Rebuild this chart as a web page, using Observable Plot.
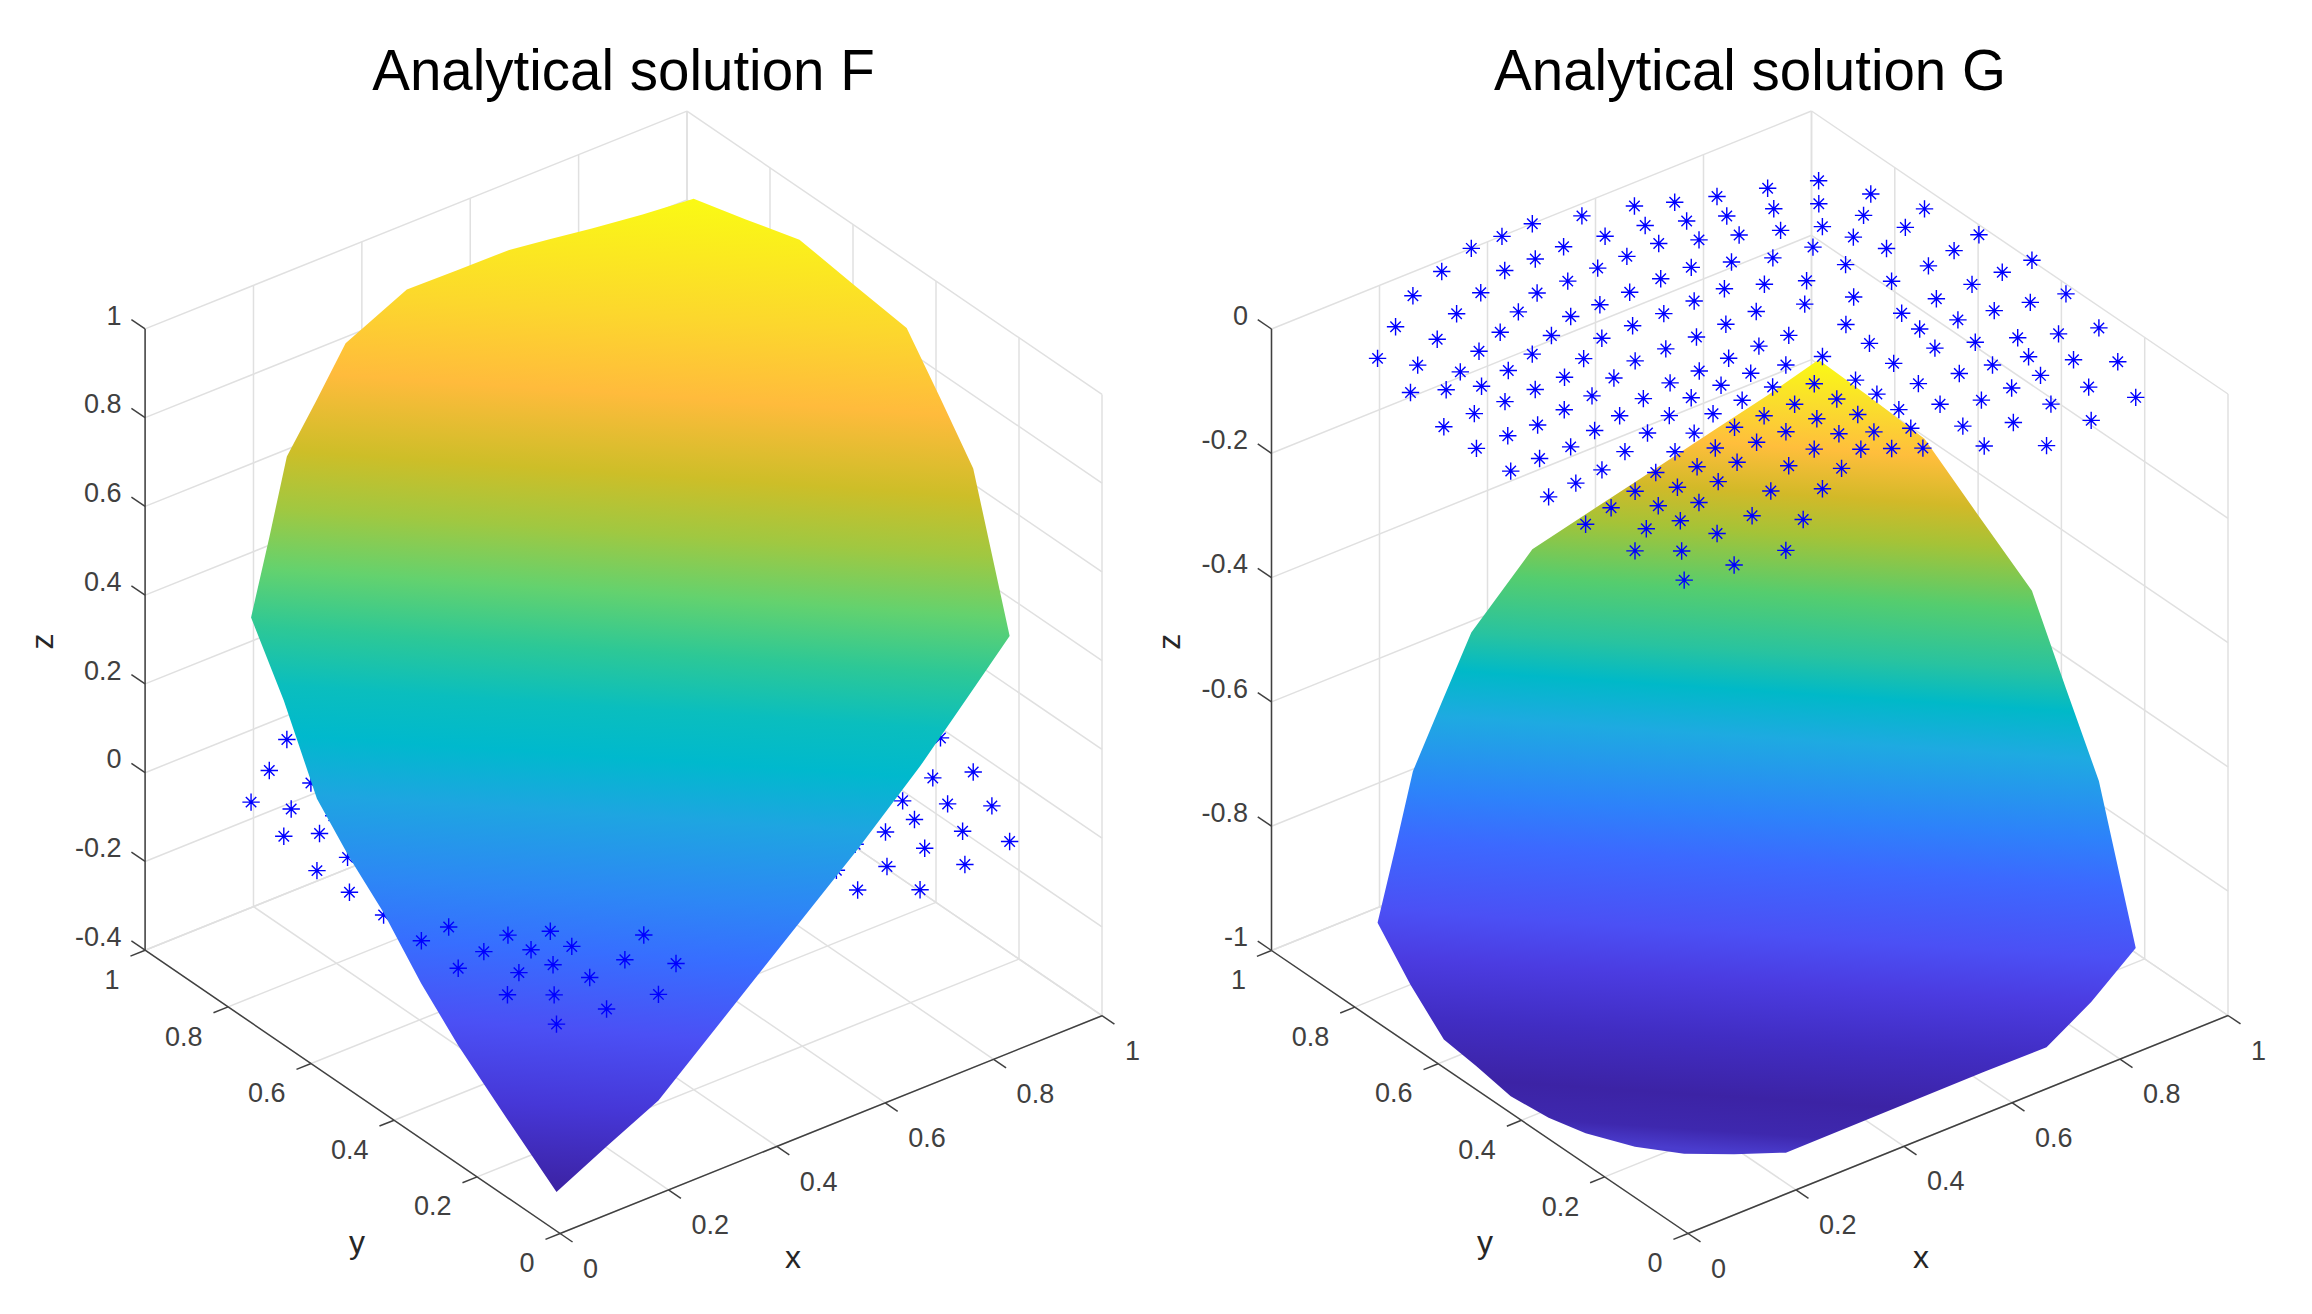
<!doctype html>
<html><head><meta charset="utf-8">
<script src="https://cdn.jsdelivr.net/npm/d3@7"></script>
<script src="https://cdn.jsdelivr.net/npm/@observablehq/plot@0.6"></script>
<style>html,body{margin:0;padding:0;background:#fff}svg{display:block}</style>
</head><body>
<div id="chart"></div>
<script>
// ---- data: collocation nodes (x, y), all lying on the plane z = 0
const nodeX = [.889,.817,.927,.744,.685,.632,.554,.964,.789,.850,.722,.667,.882,.483,
.611,.815,.910,.760,.426,.704,.649,.596,.546,.833,.983,.370,.480,.852,
.769,.927,.426,.537,.704,.649,1.001,.777,.871,.593,.296,.371,.483,.946,
.538,.704,.802,.649,.426,.890,.595,.221,.305,.479,.370,.983,.731,.824,
.927,.662,.539,.423,.241,.316,.593,.482,.871,.759,.369,.813,.675,.536,
.425,.148,.260,.963,.753,.906,.852,.314,.480,.590,.175,.368,.795,.670,
.203,.537,.738,.424,.260,.832,.312,.481,.073,.368,.879,.927,.593,.664,
.108,.536,.776,.204,.146,.425,.481,.723,.814,.258,.591,.314,.371,.537,
.658,.146,.850,.099,.053,.203,.426,.759,.483,.592,.258,.370,.313,.887,
.425,.147,.537,.703,.648,.777,.479,.202,.091,.591,.314,.368,.256,.535,
.424,.796,.480,.702,.145,.033,.370,.637,.573,.202,.259,.313,.422,.480,
.524,.092,.370,.146,.034,.312,.425,.479,.516,.553,.628,.701,.259,.201,
.090,.313,.259,.367,.424,.143,.035,.201,.258,.367,.050,.134,.043,.097,
.219,.168,.094,.147,.031,.292,.239,.147,.200,.089,.035,.145,.201,.303,.090];
const nodeY = [.839,.868,.763,.895,.920,.948,.973,.682,.817,.788,.843,.868,.722,1.000,
.895,.734,.658,.763,.999,.790,.815,.843,.907,.683,.576,1.000,.921,.628,
.697,.563,.919,.843,.709,.737,.472,.629,.552,.761,.975,.921,.843,.472,
.763,.628,.551,.658,.841,.472,.684,.947,.893,.761,.842,.367,.550,.472,
.380,.578,.684,.760,.868,.817,.605,.683,.394,.471,.760,.406,.496,.604,
.684,.894,.788,.262,.420,.285,.313,.735,.602,.523,.829,.684,.341,.433,
.765,.526,.364,.603,.711,.261,.655,.526,.840,.604,.214,.170,.446,.367,
.789,.460,.275,.696,.736,.524,.473,.286,.209,.631,.364,.585,.524,.393,
.300,.685,.140,.709,.735,.630,.473,.207,.423,.314,.565,.472,.513,.075,
.421,.630,.339,.207,.235,.136,.365,.559,.631,.260,.452,.417,.496,.286,
.367,.064,.313,.129,.549,.629,.368,.166,.208,.486,.433,.391,.312,.260,
.233,.552,.315,.471,.552,.339,.248,.206,.180,.153,.103,.048,.367,.412,
.473,.288,.314,.234,.181,.392,.471,.338,.262,.153,.074,.063,.183,.141,
.049,.148,.222,.209,.286,.102,.156,.262,.233,.300,.380,.315,.286,.194,.386];
// number of trailing nodes where F < 0, so they sit in front of surface F
const nodesInFrontOfF = 19;
// boundary of the domain, as indices into the node arrays, and the solution on it
const boundary = [0,2,7,24,34,53,73,125,141,165,164,182,179,178,180,186,192,174,158,145,116,92,71,49,38,25,18,13,6,5,4,3,1];
const boundaryF = [.960,.943,.931,.888,.848,.765,.684,.463,.368,.278,.092,-.239,-.310,-.378,-.281,-.174,-.097,
.005,.078,.162,.306,.416,.525,.638,.707,.786,.820,.852,.877,.901,.917,.928,.941];
const boundaryG = [-.288,-.328,-.370,-.453,-.532,-.635,-.729,-.886,-.936,-.968,-1.007,-.969,-.948,-.923,-.959,-.980,-.999,
-1.006,-.994,-.986,-.953,-.908,-.837,-.765,-.693,-.618,-.570,-.524,-.484,-.445,-.408,-.373,-.333];
// ticks
const xyTicks = [0,.2,.4,.6,.8,1];
const xyTickLabels = ["0","0.2","0.4","0.6","0.8","1"];
const zTicksF = [-.4,-.2,0,.2,.4,.6,.8,1];
const zTickLabelsF = ["-0.4","-0.2","0","0.2","0.4","0.6","0.8","1"];
const zTicksG = [-1,-.8,-.6,-.4,-.2,0];
const zTickLabelsG = ["-1","-0.8","-0.6","-0.4","-0.2","0"];
// colour ramps of the two surfaces, top (0) to bottom (1) of the drawn surface
const rampLevelsF = [0,.120,.200,.280,.339,.399,.458,.515,.565,.623,.703,.762,.841,.919,1];
const rampColorsF = ["#fafa14","#fcd72d","#ffbb3c","#cdbe28","#a0c841","#64d26e","#2dc896","#0abebe","#00b9cd","#1ea5e1","#2d87f5","#376eff","#4b50f5","#4637d7","#3c23a5"];
const rampLevelsG = [0,.058,.112,.171,.221,.296,.371,.420,.478,.576,.635,.725,.784,.857,.931,.975,1];
const rampColorsG = ["#fafa14","#fadc2d","#ffbe3c","#d2b928","#a5c337","#55cd6e","#28c3a0","#00b9c8","#1eaae1","#2d82fa","#3c69ff","#4b50f5","#4b3ce1","#412dc3","#3c23a5","#3e28ae","#4a3ccd"];

// ---- layout of the two 3-D boxes (orthographic projection)
const W = 2312, H = 1314;
const FONT = "'Liberation Sans', Arial, sans-serif";
const panels = [
  {name:"F", title:"Analytical solution F", titleX:623, ox:559.6, oy:1233, xv:[541.9,-217.8], yv:[-415,-283.3], zh:621.3,
   zTicks:zTicksF, zLabels:zTickLabelsF, z:boundaryF, levels:rampLevelsF, colors:rampColorsF, tilt:.066},
  {name:"G", title:"Analytical solution G", titleX:1749.5, ox:1687.5, oy:1233, xv:[540,-218], yv:[-416.5,-283], zh:621.5,
   zTicks:zTicksG, zLabels:zTickLabelsG, z:boundaryG, levels:rampLevelsG, colors:rampColorsG, tilt:.066}
];
const marks = [];
const star = {draw(c,size){const r=Math.sqrt(size/Math.PI),d=r*.6;
  c.moveTo(-r,0);c.lineTo(r,0);c.moveTo(0,-r);c.lineTo(0,r);
  c.moveTo(-d,-d);c.lineTo(d,d);c.moveTo(-d,d);c.lineTo(d,-d);}};
const NS="http://www.w3.org/2000/svg";

for (const P of panels) {
  const zMin=P.zTicks[0], zMax=P.zTicks[P.zTicks.length-1];
  const px=(x,y)=>P.ox+P.xv[0]*x+P.yv[0]*y;
  const py=(x,y,z)=>P.oy+P.xv[1]*x+P.yv[1]*y-(z-zMin)/(zMax-zMin)*P.zh;
  const seg=(a,b)=>({x1:px(a[0],a[1]),y1:py(a[0],a[1],a[2]),x2:px(b[0],b[1]),y2:py(b[0],b[1],b[2])});
  const link=(segs,o)=>Plot.link(segs,{x1:"x1",y1:"y1",x2:"x2",y2:"y2",...o});
  // grid
  const grid=[];
  for(const t of xyTicks){
    grid.push(seg([t,0,zMin],[t,1,zMin]),seg([0,t,zMin],[1,t,zMin]),
              seg([t,1,zMin],[t,1,zMax]),seg([1,t,zMin],[1,t,zMax]));
  }
  for(const z of P.zTicks){grid.push(seg([0,1,z],[1,1,z]),seg([1,1,z],[1,0,z]));}
  marks.push(link(grid,{stroke:"#e0e0e0",strokeWidth:1.5}));
  // axis lines and ticks
  const axes=[seg([0,0,zMin],[1,0,zMin]),seg([0,0,zMin],[0,1,zMin]),seg([0,1,zMin],[0,1,zMax])];
  for(const t of xyTicks){axes.push(seg([t,0,zMin],[t,-.03,zMin]),seg([0,t,zMin],[-.027,t,zMin]));}
  for(const z of P.zTicks){axes.push(seg([0,1,z],[0,1.033,z]));}
  marks.push(link(axes,{stroke:"#404040",strokeWidth:1.5}));
  // tick labels
  const txt=(data,o)=>Plot.text(data,{x:"x",y:"y",text:"s",fontFamily:FONT,...o});
  const common={fontSize:27,fill:"#404040"};
  marks.push(txt(xyTicks.map((t,i)=>({x:px(t,0),y:py(t,0,zMin),s:xyTickLabels[i]})),
    {textAnchor:"start",dx:23,dy:35.5,...common}));
  marks.push(txt(xyTicks.map((t,i)=>({x:px(0,t),y:py(0,t,zMin),s:xyTickLabels[i]})),
    {textAnchor:"end",dx:-25.5,dy:30,...common}));
  marks.push(txt(P.zTicks.map((z,i)=>({x:px(0,1),y:py(0,1,z),s:P.zLabels[i]})),
    {textAnchor:"end",dx:-23.5,dy:-13,...common}));
  // axis titles
  const ac={fontSize:32,fill:"#262626"};
  marks.push(txt([{x:P.ox,y:P.oy,s:"x"}],{dx:233,dy:24,...ac}));
  marks.push(txt([{x:P.ox,y:P.oy,s:"y"}],{dx:-203,dy:9.5,...ac}));
  marks.push(txt([{x:px(0,1),y:py(0,1,(zMin+zMax)/2),s:"z"}],{dx:-102,dy:2,rotate:-90,...ac}));
  // title
  marks.push(txt([{x:P.titleX,y:71,s:P.title}],{fontSize:56.5,fill:"#000"}));

  // nodes and surface
  const nodes=nodeX.map((x,i)=>({px:px(x,nodeY[i]),py:py(x,nodeY[i],0)}));
  const dots=d=>Plot.dot(d,{x:"px",y:"py",symbol:star,r:8.7,fill:"none",stroke:"#0000ff",strokeWidth:1.4});
  const hull=boundary.map((n,i)=>({px:px(nodeX[n],nodeY[n]),py:py(nodeX[n],nodeY[n],P.z[i])}));
  const [top,bottom]=d3.extent(hull,d=>d.py);
  const apex=hull[0].px;
  const id="ramp"+P.name;
  // gradient definition for the surface, tilted like the level lines in the picture
  marks.push(()=>{
    const defs=document.createElementNS(NS,"defs");
    const g=document.createElementNS(NS,"linearGradient");
    g.setAttribute("id",id);g.setAttribute("gradientUnits","userSpaceOnUse");
    const h=bottom-top;
    g.setAttribute("x1",apex);g.setAttribute("y1",top);
    g.setAttribute("x2",apex-P.tilt*h);g.setAttribute("y2",top+h);
    P.levels.forEach((l,i)=>{const s=document.createElementNS(NS,"stop");
      s.setAttribute("offset",l);s.setAttribute("stop-color",P.colors[i]);g.appendChild(s);});
    defs.appendChild(g);return defs;
  });
  if(P.name==="F"){
    marks.push(dots(nodes));
    marks.push(Plot.line(hull,{x:"px",y:"py",curve:"linear-closed",fill:`url(#${id})`,stroke:"none"}));
    marks.push(dots(nodes.slice(-nodesInFrontOfF)));
  } else {
    marks.push(Plot.line(hull,{x:"px",y:"py",curve:"linear-closed",fill:`url(#${id})`,stroke:"none"}));
    marks.push(dots(nodes));
  }
}

const chart=Plot.plot({width:W,height:H,margin:0,
  x:{domain:[0,W],range:[0,W],axis:null},
  y:{domain:[0,H],range:[0,H],axis:null},
  style:{background:"#fff"},
  marks});
document.getElementById("chart").appendChild(chart);
</script></body></html>
